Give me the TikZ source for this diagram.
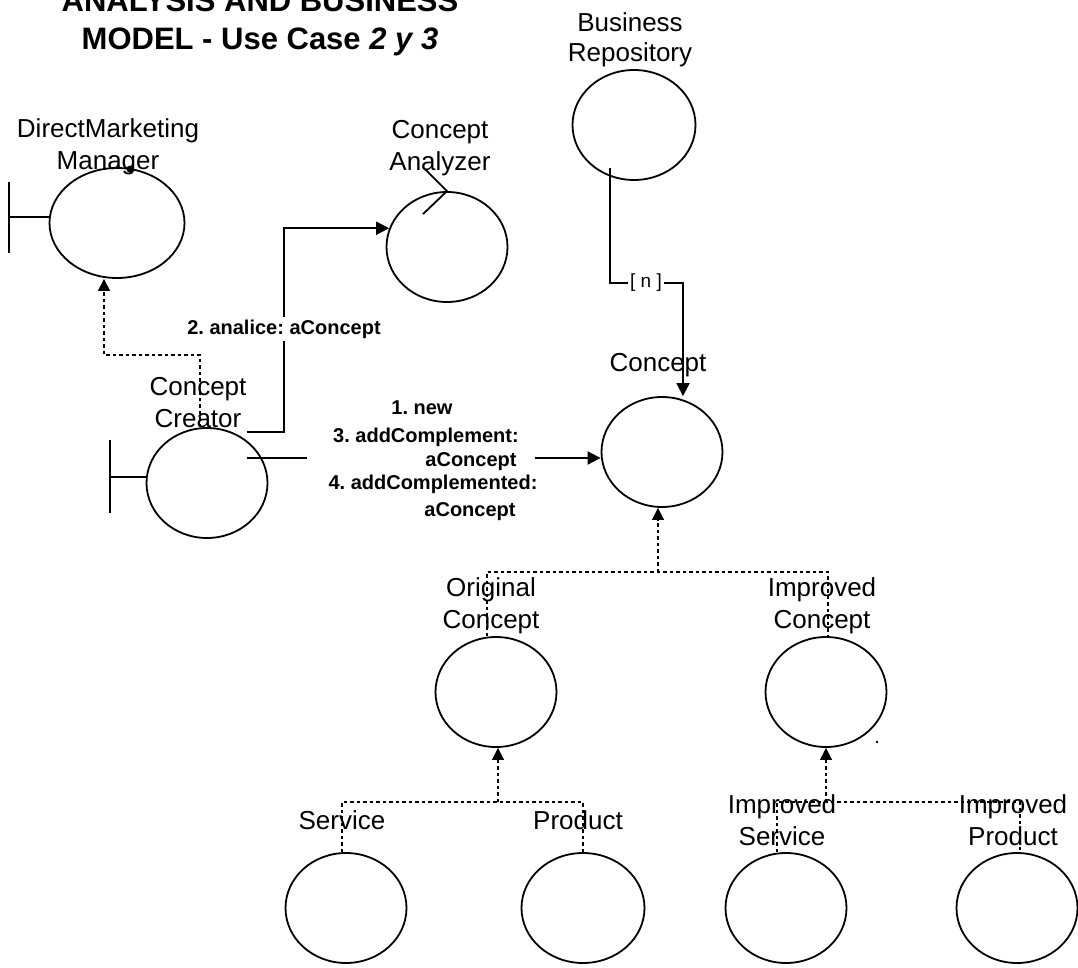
\documentclass[tikz,border=0pt]{standalone}
\usepackage{fontspec}
\setmainfont{Liberation Sans}
\frenchspacing
\usetikzlibrary{shapes.geometric,arrows.meta,calc}
\begin{document}
\begin{tikzpicture}[x=1pt,y=-1pt,
  obj/.style={ellipse,draw,line width=1.8pt,inner sep=0pt,minimum width=121pt,minimum height=110pt},
  lbl/.style={font=\fontsize{26}{32}\selectfont,align=center,inner sep=0pt},
  msg/.style={font=\bfseries\fontsize{20}{24}\selectfont,inner sep=0pt,anchor=base},
  ln/.style={line width=1.8pt},
  arr/.style={ln,-{Triangle[length=13pt,width=13pt]}},
  dsh/.style={line width=1.2pt,dash pattern=on 3.5pt off 3pt},
  darr/.style={dsh,-{Triangle[length=12pt,width=12pt]}}]

\useasboundingbox (0,0) rectangle (1078,968);

% title
\node[font=\bfseries\fontsize{31}{38}\selectfont,align=center,inner sep=0pt] (title) at (260,23)
  {ANALYSIS AND BUSINESS\\MODEL - Use Case \textit{2 y 3}};

% objects
\node[obj,minimum width=135pt] (dm) at (117,223) {};
\node[obj] (an) at (447,247) {};
\node[obj] (cr) at (207,483) {};
\node[obj,minimum width=123pt] (br) at (634,125) {};
\node[obj] (co) at (662,452) {};
\node[obj] (oc) at (496,692) {};
\node[obj] (ic) at (826,692) {};
\node[obj] (sv) at (346,908) {};
\node[obj,minimum width=123pt] (pd) at (583,908) {};
\node[obj] (is) at (786,908) {};
\node[obj] (ip) at (1017,908) {};

% actor bars (boundary)
\coordinate (dmBarT) at (9,182);
\coordinate (dmBarB) at (9,253);
\coordinate (dmBarM) at (9,217);
\draw[ln] (dmBarT) -- (dmBarB);
\draw[ln] (dmBarM) -- (dmBarM -| dm.west);
\coordinate (crBarT) at (110,440);
\coordinate (crBarB) at (110,513);
\coordinate (crBarM) at (110,477);
\draw[ln] (crBarT) -- (crBarB);
\draw[ln] (crBarM) -- (crBarM -| cr.west);

% control symbol on analyzer
\draw[ln] ($(an.north)+(-22,-22)$) -- (an.north) -- ($(an.north)+(-24,23)$);
% dots
\fill ($(dm.north)+(13,2)$) circle (3.5pt);
\fill ($(ic.center)+(51,50)$) circle (1.3pt);

% labels
\node[lbl] (dmL) at (108,147) {DirectMarketing\\Manager};
\node[lbl] (anL) at (440,148) {Concept\\Analyzer};
\node[lbl] (crL) at (198,403) {Concept\\Creator};
\node[lbl,font=\fontsize{26}{30}\selectfont] (brL) at (630,40) {Business\\Repository};
\node[lbl,anchor=base] (coL) at (658,371) {Concept};
\node[lbl] (ocL) at (491,606) {Original\\Concept};
\node[lbl] (icL) at (822,606) {Improved\\Concept};
\node[lbl,anchor=base] (svL) at (342,829) {Service};
\node[lbl,anchor=base] (pdL) at (578,829) {Product};
\node[lbl] (isL) at (782,820) {Improved\\Service};
\node[lbl] (ipL) at (1013,820) {Improved\\Product};

% creator -> analyzer
\coordinate (caA) at (247,432);
\coordinate (caB) at (284,432);
\draw[arr] (caA) -- (caB) |- (an.162);
\node[msg,fill=white,inner sep=3pt] (m2) at (284,334) {2. analice: aConcept};

% creator -> concept
\coordinate (ccA) at (247,458);
\coordinate (ccB) at (307,458);
\coordinate (ccC) at (535,458);
\draw[ln] (ccA) -- (ccB);
\draw[arr] (ccC) -- (ccC -| co.west);
\node[msg] (m1) at (422,414) {1. new};
\node[msg] (m3) at (426,442) {3. addComplement:};
\node[msg] (m3b) at (471,466) {aConcept};
\node[msg] (m4) at (433,489) {4. addComplemented:};
\node[msg] (m4b) at (470,516) {aConcept};

% repository -> concept
\coordinate (brA) at (610,168);
\coordinate (brB) at (683,283);
\node[font=\fontsize{19}{22}\selectfont,inner sep=1.5pt] (nl) at (646,283) {[ n ]};
\draw[ln] (brA) |- (nl.west);
\draw[arr] (nl.east) -- (brB) -- (brB |- co.north);

% creator -> DM manager (dashed)
\coordinate (dA) at (200,355);
\coordinate (dB) at (104,355);
\draw[darr] (dA |- cr.north) -- (dA) -- (dB) -- (dB |- dm.south);

% generalisation: concept
\coordinate (h1) at (658,572);
\coordinate (h1L) at (487,572);
\coordinate (h1R) at (828,572);
\draw[darr] (h1) -- (h1 |- co.south);
\draw[dsh] (h1L |- oc.north) -- (h1L) -- (h1R) -- (h1R |- ic.north);

% generalisation: original concept
\coordinate (h2) at (498,802);
\coordinate (h2L) at (342,802);
\coordinate (h2R) at (583,802);
\draw[darr] (h2) -- (h2 |- oc.south);
\draw[dsh] (h2L |- sv.north) -- (h2L) -- (h2R) -- (h2R |- pd.north);

% generalisation: improved concept
\coordinate (h3) at (826,802);
\coordinate (h3L) at (777,802);
\coordinate (h3R) at (1020,802);
\draw[darr] (h3) -- (h3 |- ic.south);
\draw[dsh] (h3L |- is.north) -- (h3L) -- (h3R) -- (h3R |- ip.north);
\end{tikzpicture}
\end{document}
